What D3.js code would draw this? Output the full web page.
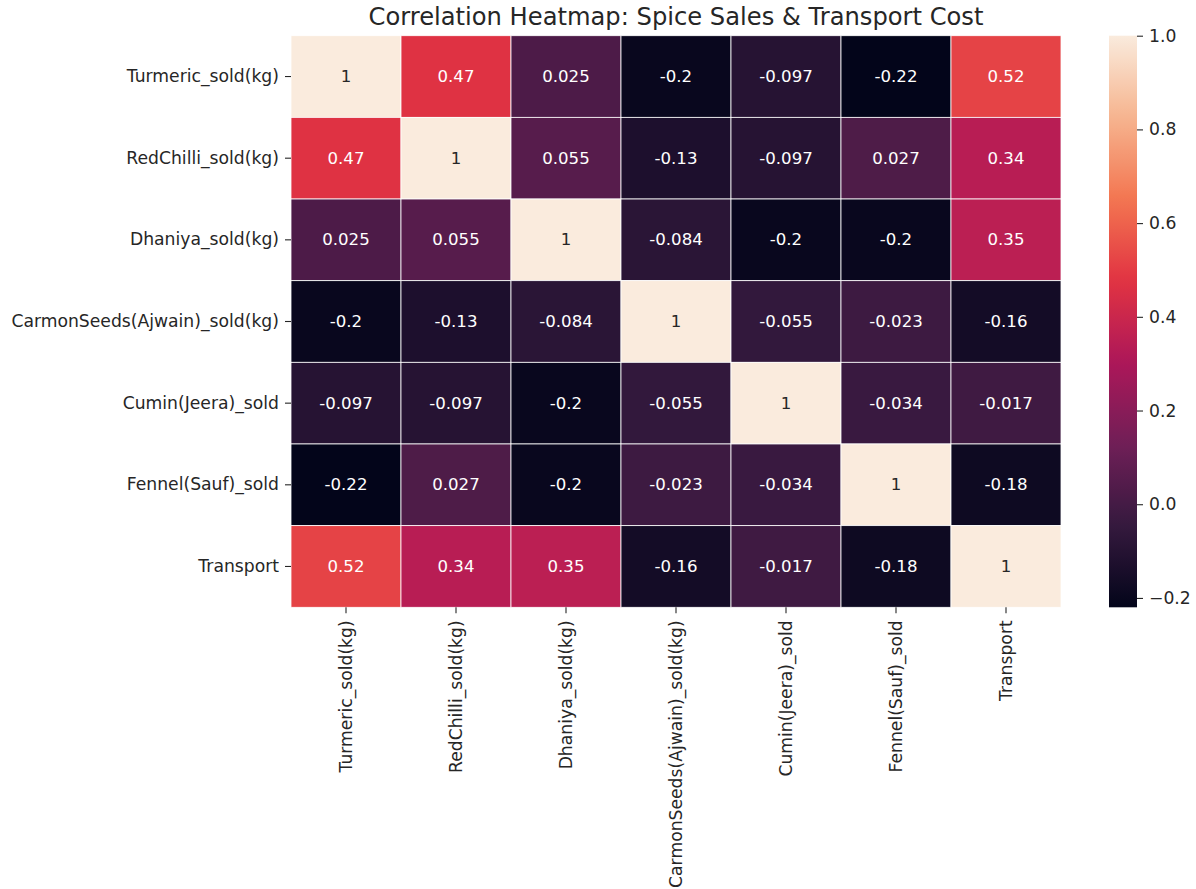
<!DOCTYPE html>
<html>
<head>
<meta charset="utf-8">
<script src="https://cdn.jsdelivr.net/npm/d3@7"></script>
<style>
  body { margin: 0; background: #fff; }
  text { font-family: 'DejaVu Sans', sans-serif; }
</style>
</head>
<body>
<svg id="chart" width="1196" height="889"></svg>
<script>
// labels used on both axes
var labels = ['Turmeric_sold(kg)', 'RedChilli_sold(kg)', 'Dhaniya_sold(kg)',
  'CarmonSeeds(Ajwain)_sold(kg)', 'Cumin(Jeera)_sold', 'Fennel(Sauf)_sold', 'Transport']

// correlation rows, in the same order as labels
var turmericRow = [1, 0.47, 0.025, -0.2, -0.097, -0.22, 0.52]
var redChilliRow = [0.47, 1, 0.055, -0.13, -0.097, 0.027, 0.34]
var dhaniyaRow = [0.025, 0.055, 1, -0.084, -0.2, -0.2, 0.35]
var carmonRow = [-0.2, -0.13, -0.084, 1, -0.055, -0.023, -0.16]
var cuminRow = [-0.097, -0.097, -0.2, -0.055, 1, -0.034, -0.017]
var fennelRow = [-0.22, 0.027, -0.2, -0.023, -0.034, 1, -0.18]
var transportRow = [0.52, 0.34, 0.35, -0.16, -0.017, -0.18, 1]
var rows = [turmericRow, redChilliRow, dhaniyaRow, carmonRow, cuminRow, fennelRow, transportRow]

var colorbarTicks = [1.0, 0.8, 0.6, 0.4, 0.2, 0.0, -0.2]

// rocket palette stops
var rocketStops = [
  [0, '#03051a'], [1 / 7, '#35193e'], [2 / 7, '#701f57'], [3 / 7, '#ad1759'],
  [4 / 7, '#e13342'], [5 / 7, '#f37651'], [6 / 7, '#f6b48f'], [1, '#faebdd']
]

var svg = d3.select('#chart')
// note: "top" is taken by window.top, so plot* names here
var plotLeft = 291, plotRight = 1061, plotTop = 35.7, plotBottom = 607.3
var tickFont = 17.2
var annotFont = 16.6

var cells = []
rows.forEach(function (r, i) {
  r.forEach(function (v, j) { cells.push({ row: i, col: j, value: v }) })
})

var vmin = d3.min(cells, function (d) { return d.value })
var vmax = d3.max(cells, function (d) { return d.value })

var rocket = d3.scaleLinear()
  .domain(rocketStops.map(function (s) { return s[0] }))
  .range(rocketStops.map(function (s) { return s[1] }))
  .interpolate(d3.interpolateRgb)
  .clamp(true)
var norm = d3.scaleLinear().domain([vmin, vmax]).range([0, 1])
function color (v) { return rocket(norm(v)) }

var x = d3.scaleBand().domain(labels).range([plotLeft, plotRight])
var y = d3.scaleBand().domain(labels).range([plotTop, plotBottom])

// cells
svg.append('g').selectAll('rect')
  .data(cells)
  .enter().append('rect')
  .attr('x', function (d) { return x(labels[d.col]) })
  .attr('y', function (d) { return y(labels[d.row]) })
  .attr('width', x.bandwidth())
  .attr('height', y.bandwidth())
  .attr('fill', function (d) { return color(d.value) })
  .attr('stroke', '#ffffff')
  .attr('stroke-width', 0.8)

// annotations
svg.append('g').selectAll('text')
  .data(cells)
  .enter().append('text')
  .attr('x', function (d) { return x(labels[d.col]) + x.bandwidth() / 2 })
  .attr('y', function (d) { return y(labels[d.row]) + y.bandwidth() / 2 })
  .attr('dy', '0.34em')
  .attr('text-anchor', 'middle')
  .attr('font-size', annotFont)
  .attr('fill', function (d) {
    var c = d3.rgb(color(d.value))
    var lum = (0.2126 * c.r + 0.7152 * c.g + 0.0722 * c.b) / 255
    return lum > 0.408 ? '#262626' : '#ffffff'
  })
  .text(function (d) { return String(d.value) })

// y axis
var yAxis = svg.append('g')
  .attr('transform', 'translate(' + plotLeft + ',0)')
  .call(d3.axisLeft(y).tickSize(6).tickPadding(6))
yAxis.select('.domain').remove()
yAxis.selectAll('line').attr('stroke', '#262626').attr('stroke-width', 1.1)
yAxis.selectAll('text').attr('font-size', tickFont).attr('fill', '#262626')
  .attr('font-family', 'DejaVu Sans')

// x axis
var xAxis = svg.append('g')
  .attr('transform', 'translate(0,' + plotBottom + ')')
  .call(d3.axisBottom(x).tickSize(6).tickPadding(6))
xAxis.select('.domain').remove()
xAxis.selectAll('line').attr('stroke', '#262626').attr('stroke-width', 1.1)
xAxis.selectAll('text')
  .attr('font-size', tickFont).attr('fill', '#262626')
  .attr('font-family', 'DejaVu Sans')
  .attr('text-anchor', 'end')
  .attr('transform', 'rotate(-90)')
  .attr('x', -13)
  .attr('y', 0)
  .attr('dy', '0.36em')

// colorbar
var cbLeft = 1109, cbWidth = 28
var cbScale = d3.scaleLinear().domain([vmin, vmax]).range([plotBottom, plotTop])
var grad = svg.append('defs').append('linearGradient')
  .attr('id', 'cbGrad').attr('x1', 0).attr('y1', 1).attr('x2', 0).attr('y2', 0)
grad.selectAll('stop')
  .data(d3.range(0, 1.0001, 0.02))
  .enter().append('stop')
  .attr('offset', function (t) { return t })
  .attr('stop-color', function (t) { return rocket(t) })
svg.append('rect')
  .attr('x', cbLeft).attr('y', plotTop)
  .attr('width', cbWidth).attr('height', plotBottom - plotTop)
  .attr('fill', 'url(#cbGrad)')

var cbAxis = svg.append('g')
  .attr('transform', 'translate(' + (cbLeft + cbWidth) + ',0)')
  .call(d3.axisRight(cbScale).tickValues(colorbarTicks).tickSize(6).tickPadding(6)
    .tickFormat(function (v) { return d3.format('.1f')(v).replace('-', '\u2212') }))
cbAxis.select('.domain').remove()
cbAxis.selectAll('line').attr('stroke', '#262626').attr('stroke-width', 1.1)
cbAxis.selectAll('text').attr('font-size', tickFont).attr('fill', '#262626')
  .attr('font-family', 'DejaVu Sans')

// title
svg.append('text')
  .attr('x', (plotLeft + plotRight) / 2)
  .attr('y', 25)
  .attr('text-anchor', 'middle')
  .attr('font-size', 24.2)
  .attr('fill', '#262626')
  .text('Correlation Heatmap: Spice Sales & Transport Cost')
</script>
</body>
</html>
